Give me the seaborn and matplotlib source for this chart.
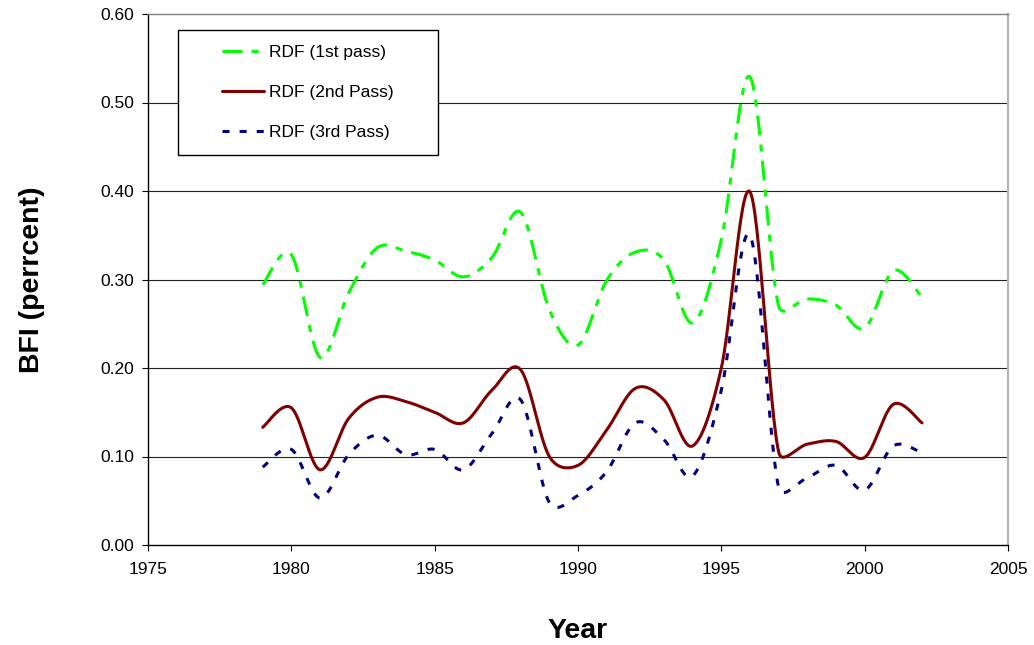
import numpy as np
import pandas as pd
import matplotlib
matplotlib.use("Agg")
import matplotlib.pyplot as plt
from matplotlib.patches import Rectangle
import seaborn as sns

years = [1979, 1980, 1981, 1982, 1983, 1984, 1985, 1986, 1987, 1988, 1989, 1990,
         1991, 1992, 1993, 1994, 1995, 1996, 1997, 1998, 1999, 2000, 2001, 2002]
pass1 = [0.294, 0.328, 0.212, 0.285, 0.336, 0.332, 0.322, 0.303, 0.325, 0.376, 0.266, 0.226,
         0.299, 0.331, 0.322, 0.251, 0.345, 0.529, 0.270, 0.278, 0.271, 0.245, 0.310, 0.280]
pass2 = [0.133, 0.155, 0.085, 0.143, 0.167, 0.162, 0.150, 0.138, 0.175, 0.198, 0.100, 0.090,
         0.130, 0.177, 0.164, 0.112, 0.200, 0.399, 0.105, 0.114, 0.117, 0.099, 0.159, 0.138]
pass3 = [0.088, 0.108, 0.053, 0.102, 0.124, 0.102, 0.108, 0.085, 0.126, 0.164, 0.048, 0.056,
         0.083, 0.138, 0.119, 0.078, 0.175, 0.350, 0.065, 0.076, 0.090, 0.062, 0.112, 0.104]
names = ["RDF (1st pass)", "RDF (2nd Pass)", "RDF (3rd Pass)"]


# excel style smoothed line: bezier through the points, control arms
# limited to half of the neighbouring segment (worked out in screen units)
def smooth(x, y, n=30, sx=28.67, sy=885.0):
    P = np.column_stack([np.asarray(x, float) * sx, np.asarray(y, float) * sy])
    m = len(P)
    c_out = np.zeros_like(P)
    c_in = np.zeros_like(P)
    for i in range(m):
        a = P[max(i - 1, 0)]
        b = P[min(i + 1, m - 1)]
        T = b - a
        dT = np.hypot(*T)
        u = T / dT
        d_prev = np.hypot(*(P[i] - a))
        d_next = np.hypot(*(b - P[i]))
        c_out[i] = P[i] + u * min(dT / 6, d_next / 2)
        c_in[i] = P[i] - u * min(dT / 6, d_prev / 2)
    t = np.linspace(0, 1, n, endpoint=False)[:, None]
    pts = []
    for i in range(m - 1):
        p0, p1, p2, p3 = P[i], c_out[i], c_in[i + 1], P[i + 1]
        pts.append((1 - t) ** 3 * p0 + 3 * (1 - t) ** 2 * t * p1 + 3 * (1 - t) * t ** 2 * p2 + t ** 3 * p3)
    pts.append(P[-1:])
    pts = np.vstack(pts)
    return pts[:, 0] / sx, pts[:, 1] / sy


frames = []
for name, vals in zip(names, [pass1, pass2, pass3]):
    cx, cy = smooth(years, vals)
    frames.append(pd.DataFrame({"Year": cx, "BFI": cy, "series": name}))
df = pd.concat(frames, ignore_index=True)

sns.set_style("white")
plt.rcParams["font.family"] = ["Liberation Sans", "DejaVu Sans"]
plt.rcParams["text.color"] = "black"
plt.rcParams["axes.labelcolor"] = "black"

fig = plt.figure(figsize=(10.34, 6.45), dpi=100)
ax = fig.add_axes([148 / 1034, 1 - 545 / 645, 860 / 1034, 531 / 645])

palette = {names[0]: "#00ff00", names[1]: "#800000", names[2]: "#000080"}
dashes = {names[0]: (6.5, 3, 2.3, 3), names[1]: "", names[2]: (2.3, 3.3)}
sns.lineplot(data=df, x="Year", y="BFI", hue="series", style="series", palette=palette,
             dashes=dashes, estimator=None, sort=False, linewidth=2.2, ax=ax)

ax.set_xlim(1975, 2005)
ax.set_ylim(0, 0.6)
ax.set_xticks(range(1975, 2006, 5))
ax.set_yticks(np.arange(0, 0.61, 0.1))
ax.yaxis.set_major_formatter(matplotlib.ticker.FormatStrFormatter("%.2f"))
for yv in np.arange(0.1, 0.55, 0.1):
    ax.axhline(yv, color="#222222", lw=0.8, zorder=0)

for s in ["left", "bottom"]:
    ax.spines[s].set_color("black")
    ax.spines[s].set_linewidth(1.0)
ax.spines["top"].set_color("#808080")
ax.spines["top"].set_linewidth(1.0)
ax.spines["right"].set_color("#b4b4b4")
ax.spines["right"].set_linewidth(1.6)
ax.tick_params(axis="both", direction="out", length=4, width=0.8, color="black",
               labelsize=12.5, labelcolor="black", left=True, bottom=True)
ax.tick_params(axis="y", pad=6)
ax.tick_params(axis="x", pad=8)

ax.set_xlabel("Year", fontsize=20.5, fontweight="bold", labelpad=30)
ax.set_ylabel("BFI (perrcent)", fontsize=20.5, fontweight="bold", labelpad=40)

handles, labels = ax.get_legend_handles_labels()
ax.legend(handles, labels, loc="center", bbox_to_anchor=(0.186, 0.852), frameon=False,
          fontsize=12.5, handlelength=2.4, handletextpad=0.3, labelspacing=1.45)
ax.add_patch(Rectangle((0.0349, 0.734), 0.302, 0.236, transform=ax.transAxes,
                       facecolor="white", edgecolor="black", lw=1.0, zorder=4))

fig.savefig("out.png", dpi=100)
